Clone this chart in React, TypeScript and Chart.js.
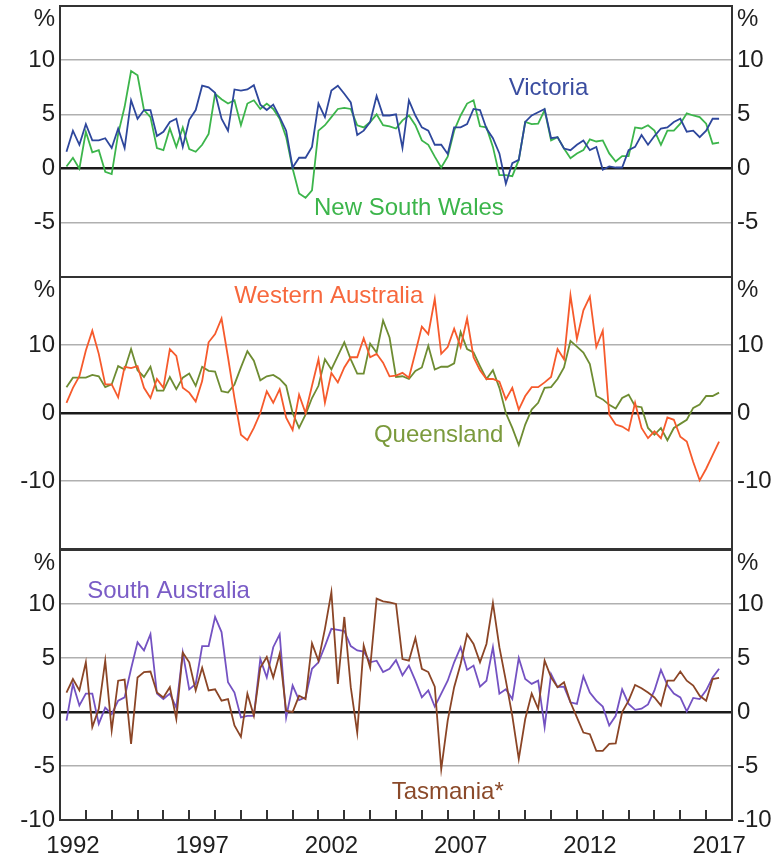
import React, { useEffect, useRef } from 'react';
import { Chart, registerables } from 'chart.js';

Chart.register(...registerables);

// ---------- data ----------
const FIRST_QUARTER = 1992.25;
const QUARTER_COUNT = 102;
const quarters: number[] = [];
for (let i = 0; i < QUARTER_COUNT; i++) quarters.push(FIRST_QUARTER + i * 0.25);

const yearLabels = [1992, 1997, 2002, 2007, 2012, 2017];

const victoria = [
  1.55, 3.5, 2.2, 4.1, 2.6, 2.6, 2.8, 1.9, 3.7, 1.9,
  6.3, 4.6, 5.4, 5.4, 3.0, 3.4, 4.3, 4.6, 2.0, 4.5,
  5.4, 7.65, 7.5, 7.0, 4.6, 3.5, 7.3, 7.2, 7.3, 7.7,
  5.9, 5.4, 5.9, 4.75, 3.5, 0.1, 1.0, 1.0, 2.0, 6.0,
  4.75, 7.2, 7.65, 6.9, 6.1, 3.1, 3.5, 4.3, 6.7, 4.9,
  4.9, 5.0, 1.9, 6.3, 4.9, 3.8, 3.5, 2.2, 2.2, 1.35,
  3.8, 3.8, 4.1, 5.5, 5.4, 3.7, 2.8, 1.4, -1.4, 0.5,
  0.8, 4.3, 4.9, 5.2, 5.5, 2.8, 2.9, 1.85, 1.7, 2.2,
  2.6, 1.7, 2.0, -0.1, 0.2, 0.1, 0.1, 1.7, 2.0, 3.1,
  2.2, 3.0, 3.7, 3.8, 4.3, 4.6, 3.4, 3.5, 2.9, 3.5,
  4.6, 4.6,
];

const newSouthWales = [
  0.2, 1.0, 0.0, 3.4, 1.5, 1.7, -0.3, -0.5, 3.2, 5.7,
  9.0, 8.6, 5.4, 4.75, 1.9, 1.7, 3.7, 2.0, 3.8, 1.8,
  1.55, 2.2, 3.2, 6.9, 6.4, 6.0, 6.3, 4.0, 6.0, 6.3,
  5.5, 6.0, 5.5, 4.6, 2.9, 0.0, -2.3, -2.7, -2.0, 3.5,
  4.0, 4.75, 5.5, 5.6, 5.5, 4.0, 3.8, 4.3, 5.0, 4.0,
  3.9, 3.7, 4.45, 4.9, 4.0, 2.6, 2.2, 1.1, 0.1, 1.1,
  3.5, 4.9, 6.0, 6.3, 3.9, 3.8, 2.0, -0.6, -0.6, -0.7,
  0.8, 4.3, 4.1, 4.15, 5.4, 2.6, 2.9, 1.85, 0.95, 1.4,
  1.7, 2.7, 2.5, 2.6, 1.4, 0.65, 1.15, 1.15, 3.8, 3.7,
  4.0, 3.5, 2.2, 3.5, 3.5, 4.15, 5.1, 4.9, 4.75, 4.15,
  2.3, 2.4,
];

const westernAustralia = [
  1.5, 3.7, 5.4, 9.2, 12.1, 8.7, 4.2, 4.2, 2.3, 6.8,
  6.6, 6.9, 3.7, 2.2, 5.0, 3.7, 9.4, 8.4, 3.7, 3.0,
  1.7, 4.7, 10.4, 11.6, 13.9, 8.2, 2.2, -3.2, -4.0, -2.2,
  0.0, 3.2, 1.5, 3.5, -0.7, -2.5, 2.7, 0.0, 4.0, 7.9,
  1.5, 5.9, 4.5, 6.7, 8.2, 8.2, 11.0, 8.2, 8.7, 7.4,
  5.4, 5.5, 5.9, 5.2, 8.9, 12.7, 11.6, 16.8, 8.7, 9.7,
  12.4, 9.7, 13.9, 8.2, 6.3, 5.0, 5.0, 4.6, 2.0, 3.7,
  0.5, 2.5, 3.8, 3.8, 4.5, 5.3, 9.4, 7.9, 17.3, 10.9,
  15.1, 17.1, 9.7, 12.1, -0.25, -1.7, -2.0, -2.6, 1.5, -2.2,
  -3.7, -2.7, -3.7, -0.65, -1.0, -3.5, -4.2, -7.2, -9.9, -8.2,
  -6.2, -4.2,
];

const queensland = [
  3.8, 5.2, 5.2, 5.2, 5.6, 5.4, 3.8, 4.2, 6.9, 6.4,
  9.4, 6.3, 5.3, 6.8, 3.3, 3.3, 5.3, 3.5, 5.2, 5.8,
  4.0, 6.8, 6.2, 6.1, 3.2, 3.0, 4.2, 6.7, 9.1, 7.7,
  4.8, 5.4, 5.6, 5.0, 4.0, 0.0, -2.2, -0.25, 2.2, 4.0,
  7.9, 6.4, 8.4, 10.4, 7.9, 5.8, 5.8, 10.2, 8.9, 13.6,
  11.1, 5.3, 5.4, 5.0, 6.2, 6.7, 9.9, 6.4, 6.8, 6.8,
  7.3, 11.9, 9.4, 8.9, 6.9, 5.0, 6.3, 3.7, 0.0, -2.2,
  -4.7, -1.7, 0.5, 1.5, 3.7, 3.8, 5.0, 6.7, 10.6, 9.75,
  8.9, 7.2, 2.5, 2.0, 1.2, 0.65, 2.2, 2.7, 1.0, 0.85,
  -2.2, -3.2, -2.2, -4.0, -2.2, -1.6, -1.0, 0.75, 1.25, 2.5,
  2.5, 3.0,
];

const southAustralia = [
  -0.8, 2.6, 0.6, 1.7, 1.7, -1.1, 0.4, -0.2, 1.05, 1.35,
  4.0, 6.45, 5.7, 7.2, 1.7, 1.2, 1.7, 0.4, 5.5, 2.1,
  2.6, 6.1, 6.1, 8.8, 7.4, 2.75, 1.8, -0.5, -0.35, -0.35,
  4.9, 3.2, 6.0, 7.2, -0.5, 2.45, 1.1, 1.35, 4.0, 4.6,
  6.1, 7.7, 7.6, 7.5, 6.1, 5.7, 5.6, 4.6, 4.75, 3.7,
  4.0, 4.8, 3.4, 4.3, 2.9, 1.35, 2.0, 0.5, 1.7, 2.9,
  4.6, 6.0, 3.9, 4.3, 2.35, 2.9, 6.0, 1.7, 2.1, 1.2,
  5.0, 3.05, 2.6, 2.9, -1.4, 3.5, 2.3, 2.35, 0.9, 0.75,
  3.3, 1.8, 1.05, 0.5, -1.25, -0.35, 2.1, 0.75, 0.2, 0.3,
  0.7, 2.0, 3.9, 2.5, 1.7, 1.35, 0.05, 1.3, 1.2, 2.0,
  3.2, 4.0,
];

const tasmania = [
  1.8, 3.05, 2.0, 4.6, -1.4, 0.3, 4.75, -1.7, 2.9, 3.0,
  -2.95, 3.2, 3.7, 3.75, 1.8, 1.35, 2.3, -0.65, 5.5, 4.6,
  2.0, 4.1, 2.0, 2.1, 1.05, 1.2, -1.25, -2.3, 1.7, -0.35,
  4.1, 5.1, 3.2, 5.4, 0.1, 0.0, 1.5, 1.2, 6.35, 4.75,
  7.7, 11.1, 2.6, 8.8, 2.3, -1.9, 6.15, 4.1, 10.5, 10.25,
  10.15, 10.0, 4.9, 4.75, 6.85, 4.0, 3.7, 2.35, -5.3, -0.8,
  2.3, 4.45, 7.2, 6.3, 4.6, 6.3, 10.1, 6.0, 2.9, -0.35,
  -4.35, -0.65, 1.7, 0.3, 4.75, 3.2, 2.3, 2.75, 0.9, -0.5,
  -1.9, -2.05, -3.6, -3.6, -2.95, -2.9, 0.0, 1.05, 2.5, 2.2,
  1.8, 1.35, 0.6, 2.9, 2.9, 3.75, 2.9, 2.45, 1.5, 1.05,
  3.05, 3.15,
];

// ---------- styling ----------
const FONT_FAMILY = "'Liberation Sans', Arial, Helvetica, sans-serif";
const FONT_SIZE = 24;
const TEXT_COLOR = '#1f1f1f';
const GRID_COLOR = '#b0b0b0';
const ZERO_COLOR = '#1a1a1a';
const BORDER_COLOR = '#333333';

type Series = { name: string; values: number[]; color: string };
type Note = { text: string; x: number; y: number; color: string };
type PanelSpec = {
  top: number;
  height: number;
  padTop: number;
  padBottom: number;
  min: number;
  max: number;
  step: number;
  shown: number[];
  grid: number[];
  series: Series[];
  notes: Note[];
  showX: boolean;
};

const panels: PanelSpec[] = [
  {
    top: 0, height: 283, padTop: 6, padBottom: 6,
    min: -10, max: 15, step: 5,
    shown: [10, 5, 0, -5], grid: [10, 5, 0, -5],
    series: [
      { name: 'Victoria', values: victoria, color: '#2e479c' },
      { name: 'New South Wales', values: newSouthWales, color: '#3cb54b' },
    ],
    notes: [
      { text: 'Victoria', x: 2010.9, y: 7.4, color: '#3a4da0' },
      { text: 'New South Wales', x: 2005.5, y: -3.7, color: '#3cb54b' },
    ],
    showX: false,
  },
  {
    top: 271, height: 284, padTop: 6, padBottom: 6,
    min: -20, max: 20, step: 10,
    shown: [10, 0, -10], grid: [10, 0, -10],
    series: [
      { name: 'Western Australia', values: westernAustralia, color: '#f65a2c' },
      { name: 'Queensland', values: queensland, color: '#6e8c32' },
    ],
    notes: [
      { text: 'Western Australia', x: 2002.4, y: 17.2, color: '#f7683d' },
      { text: 'Queensland', x: 2006.65, y: -3.3, color: '#7b9a3c' },
    ],
    showX: false,
  },
  {
    top: 543, height: 316, padTop: 7, padBottom: 0,
    min: -10, max: 15, step: 5,
    shown: [10, 5, 0, -5, -10], grid: [10, 5, 0, -5],
    series: [
      { name: 'Tasmania*', values: tasmania, color: '#8b4526' },
      { name: 'South Australia', values: southAustralia, color: '#7452c2' },
    ],
    notes: [
      { text: 'South Australia', x: 1996.2, y: 11.2, color: '#7a5cc6' },
      { text: 'Tasmania*', x: 2007.0, y: -7.4, color: '#8b4a2a' },
    ],
    showX: true,
  },
];

function Panel({ spec }: { spec: PanelSpec }) {
  const ref = useRef<HTMLCanvasElement | null>(null);

  useEffect(() => {
    if (!ref.current) return;
    const font = { family: FONT_FAMILY, size: FONT_SIZE };
    const yTicks = {
      stepSize: spec.step,
      color: TEXT_COLOR,
      font,
      padding: 5,
      callback: (v: any) => (spec.shown.includes(Number(v)) ? String(v) : ''),
    };

    const decor = {
      id: 'decor',
      afterDraw(chart: any) {
        const { ctx, chartArea: a, scales } = chart;
        ctx.save();
        // inward year tick marks
        if (spec.showX) {
          ctx.strokeStyle = BORDER_COLOR;
          ctx.lineWidth = 2;
          ctx.beginPath();
          for (let yr = 1993; yr <= 2017; yr++) {
            const px = Math.round(scales.x.getPixelForValue(yr));
            ctx.moveTo(px, a.bottom);
            ctx.lineTo(px, a.bottom - 10);
          }
          ctx.stroke();
        }
        // frame
        ctx.strokeStyle = BORDER_COLOR;
        ctx.lineWidth = 2;
        ctx.strokeRect(a.left, a.top, a.right - a.left, a.bottom - a.top);
        // % unit labels
        ctx.font = `${FONT_SIZE}px ${FONT_FAMILY}`;
        ctx.fillStyle = TEXT_COLOR;
        ctx.textBaseline = 'middle';
        ctx.textAlign = 'right';
        ctx.fillText('%', a.left - 5, a.top + 13);
        ctx.textAlign = 'left';
        ctx.fillText('%', a.right + 5, a.top + 13);
        // series names
        ctx.textAlign = 'center';
        for (const n of spec.notes) {
          ctx.fillStyle = n.color;
          ctx.fillText(n.text, scales.x.getPixelForValue(n.x), scales.y.getPixelForValue(n.y));
        }
        ctx.restore();
      },
    };

    const chart = new Chart(ref.current, {
      type: 'line',
      data: {
        datasets: spec.series.map((s) => ({
          label: s.name,
          data: s.values.map((v, i) => ({ x: quarters[i], y: v })),
          borderColor: s.color,
          backgroundColor: s.color,
          borderWidth: 1.8,
          pointRadius: 0,
          tension: 0,
          fill: false,
        })),
      },
      options: {
        responsive: false,
        animation: false,
        events: [],
        layout: { padding: { top: spec.padTop, bottom: spec.padBottom, left: 0, right: 0 } },
        plugins: { legend: { display: false }, tooltip: { enabled: false }, title: { display: false } },
        scales: {
          x: {
            type: 'linear',
            min: 1992,
            max: 2018,
            display: spec.showX,
            grid: { display: false, drawTicks: false },
            border: { display: false },
            afterBuildTicks: (s: any) => {
              s.ticks = yearLabels.map((y) => ({ value: y + 0.5 }));
            },
            afterFit: (s: any) => {
              if (spec.showX) s.height = 39;
              else s.height = 0;
              s.paddingLeft = 0;
              s.paddingRight = 0;
            },
            ticks: {
              autoSkip: false,
              maxRotation: 0,
              minRotation: 0,
              padding: 12,
              color: TEXT_COLOR,
              font,
              callback: (v: any) => String(Math.floor(Number(v))),
            },
          },
          y: {
            type: 'linear',
            position: 'left',
            min: spec.min,
            max: spec.max,
            border: { display: false },
            grid: {
              drawTicks: false,
              color: (c: any) => {
                const v = c.tick?.value;
                if (v === 0) return ZERO_COLOR;
                return spec.grid.includes(v) ? GRID_COLOR : 'rgba(0,0,0,0)';
              },
              lineWidth: (c: any) => (c.tick?.value === 0 ? 2.5 : 1.6),
            },
            afterFit: (s: any) => {
              s.width = 60;
              s.paddingTop = 0;
              s.paddingBottom = 0;
            },
            ticks: yTicks,
          },
          y2: {
            type: 'linear',
            position: 'right',
            min: spec.min,
            max: spec.max,
            border: { display: false },
            grid: { display: false, drawTicks: false },
            afterFit: (s: any) => {
              s.width = 52;
              s.paddingTop = 0;
              s.paddingBottom = 0;
            },
            ticks: yTicks,
          },
        },
      } as any,
      plugins: [decor],
    });
    return () => chart.destroy();
  }, [spec]);

  return (
    <canvas
      ref={ref}
      width={784}
      height={spec.height}
      style={{ position: 'absolute', left: 0, top: spec.top, display: 'block' }}
    />
  );
}

export default function App() {
  return (
    <div style={{ position: 'absolute', left: 0, top: 0, width: 784, height: 859, background: '#fff' }}>
      {panels.map((p, i) => (
        <Panel key={i} spec={p} />
      ))}
    </div>
  );
}
